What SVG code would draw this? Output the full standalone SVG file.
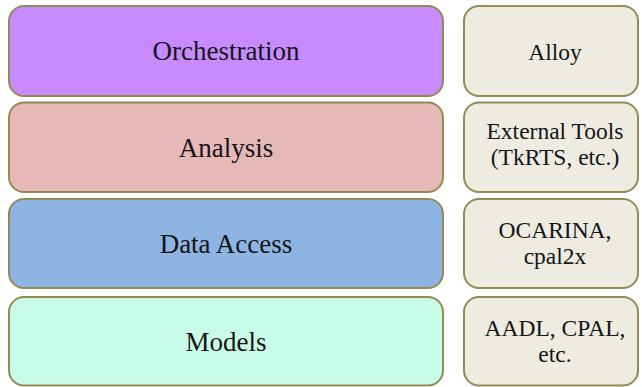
<svg xmlns="http://www.w3.org/2000/svg" width="642" height="387" viewBox="0 0 642 387">
<style>
.box{stroke:#948A54;stroke-width:2}
.tool{fill:#EEECE1}
.lbl{font-family:"Liberation Serif","Times New Roman",serif;fill:#151515;text-anchor:middle}
.big{font-size:27px}
.small{font-size:23.5px}
</style>
<rect width="642" height="387" fill="#FFFFFF"/>
<g id="orchestration">
<rect class="box" x="9" y="6" width="434" height="90" rx="15" fill="#C78BFF"/>
<text class="lbl big" x="226" y="60">Orchestration</text>
</g>
<g id="analysis">
<rect class="box" x="9" y="102.5" width="434" height="89.5" rx="15" fill="#E6B8B7"/>
<text class="lbl big" x="226" y="157">Analysis</text>
</g>
<g id="data-access">
<rect class="box" x="9" y="199" width="434" height="89" rx="15" fill="#8EB4E3"/>
<text class="lbl big" x="226" y="253">Data Access</text>
</g>
<g id="models">
<rect class="box" x="9" y="297" width="434" height="88.5" rx="15" fill="#C8FCE8"/>
<text class="lbl big" x="226" y="351">Models</text>
</g>
<g id="alloy">
<rect class="box tool" x="464" y="6" width="174" height="90" rx="15"/>
<text class="lbl small" x="555" y="60">Alloy</text>
</g>
<g id="external-tools">
<rect class="box tool" x="464" y="102.5" width="174" height="89.5" rx="15"/>
<text class="lbl small" x="555" y="139">External Tools</text>
<text class="lbl small" x="555" y="165">(TkRTS, etc.)</text>
</g>
<g id="ocarina">
<rect class="box tool" x="464" y="199" width="174" height="89" rx="15"/>
<text class="lbl small" x="555" y="237.5">OCARINA,</text>
<text class="lbl small" x="555" y="263.5">cpal2x</text>
</g>
<g id="aadl">
<rect class="box tool" x="464" y="297" width="174" height="88.5" rx="15"/>
<text class="lbl small" x="555" y="335.5">AADL, CPAL,</text>
<text class="lbl small" x="555" y="362">etc.</text>
</g>
<g id="connectors"/>
</svg>
